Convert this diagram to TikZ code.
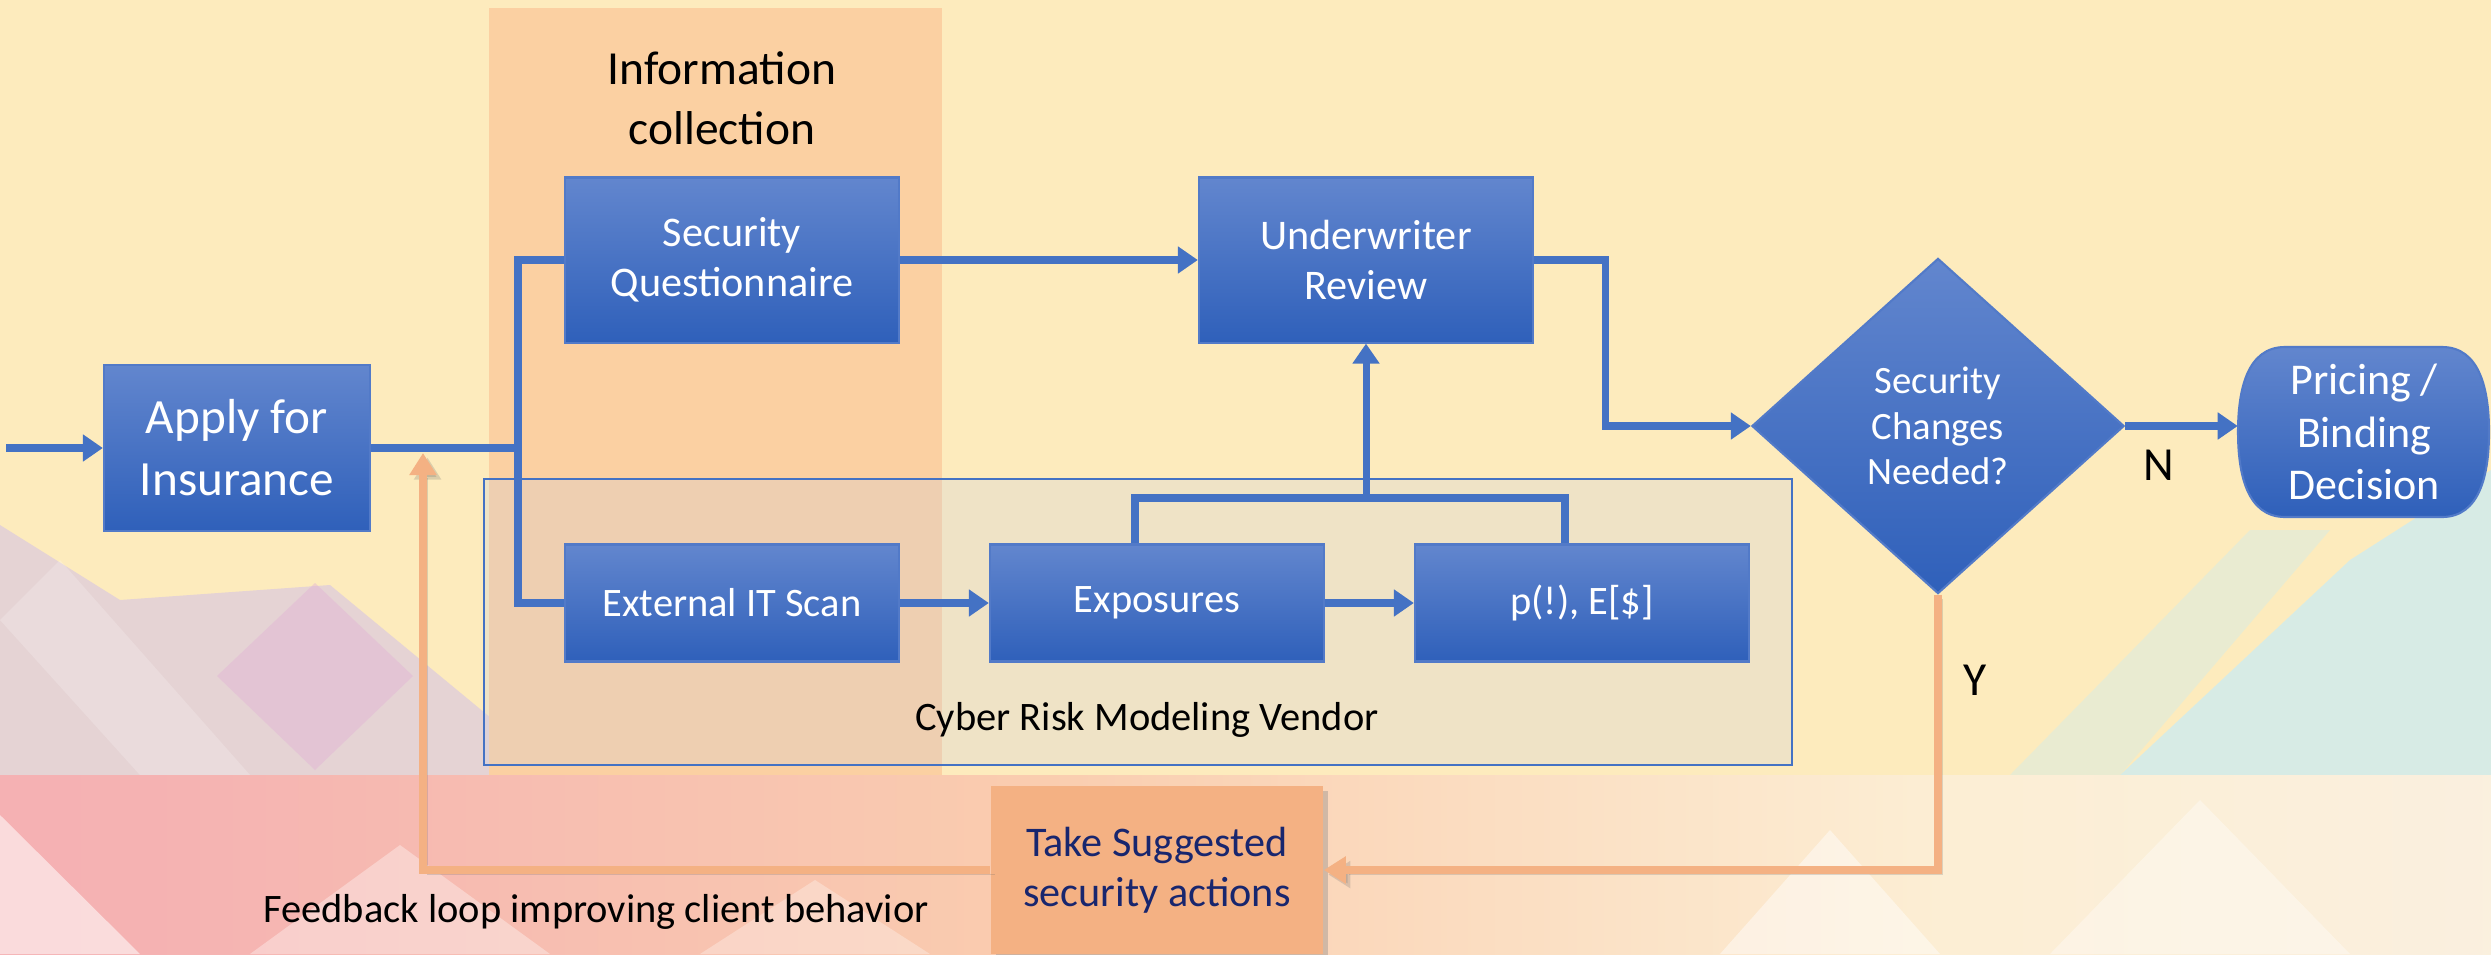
\documentclass[tikz,border=0pt]{standalone}
\usepackage{fontspec}
\setmainfont{Carlito}
\usetikzlibrary{arrows.meta,positioning,shapes.geometric,shadows}

\definecolor{bgcream}{RGB}{253,235,189}
\definecolor{infoband}{RGB}{251,208,162}
\definecolor{lineblue}{RGB}{68,114,196}
\definecolor{boxtop}{RGB}{98,134,206}
\definecolor{boxbottom}{RGB}{47,96,186}
\definecolor{boxedge}{RGB}{82,122,200}
\definecolor{loopline}{RGB}{244,177,131}
\definecolor{actiontext}{RGB}{24,38,110}
\definecolor{vendorgray}{RGB}{200,205,225}
\definecolor{hilllilac}{RGB}{214,196,228}
\definecolor{hillpink}{RGB}{226,178,214}
\definecolor{skycyan}{RGB}{200,236,246}
\definecolor{bandpink}{RGB}{242,168,192}
\definecolor{bandrose}{RGB}{245,178,178}
\definecolor{bandpeach}{RGB}{250,205,175}
\definecolor{bandcream}{RGB}{252,238,212}
\definecolor{bandpale}{RGB}{246,243,246}

\pgfdeclarehorizontalshading{bandshade}{100bp}{color(0bp)=(bandpink); color(28bp)=(bandrose); color(46bp)=(bandpeach); color(64bp)=(bandcream); color(100bp)=(bandpale)}

\tikzset{
  procbox/.style={rectangle, draw=boxedge, line width=0.6pt, top color=boxtop,
    bottom color=boxbottom, text=white, align=center, inner sep=0pt},
  wire/.style={draw=lineblue, line width=2pt},
  flow/.style={wire, -{Triangle[length=0.2cm,width=0.26cm]}},
  loopwire/.style={draw=loopline, line width=2.4pt, -{Triangle[length=0.22cm,width=0.26cm]},
    preaction={draw=black!60, opacity=0.22, transform canvas={xshift=1.3pt, yshift=-1.3pt}}},
  vendorbox/.style={rectangle, draw=lineblue, line width=0.6pt, fill=vendorgray, fill opacity=0.25},
  midfont/.style={font=\fontsize{12}{14.2}\selectfont},
  smallfont/.style={font=\fontsize{11.5}{13.5}\selectfont}
}

\begin{document}
\begin{tikzpicture}[x=0.01cm, y=-0.01cm]
  \useasboundingbox (0,0) rectangle (2491,954);

  % background
  \fill[bgcream] (0,0) rectangle (2491,954);
  \fill[hilllilac, opacity=0.6] (0,525) -- (120,600) -- (330,585) -- (560,775) -- (0,775) -- cycle;
  \fill[hillpink, opacity=0.45] (315,583) -- (413,676) -- (315,770) -- (217,676) -- cycle;
  \fill[white, opacity=0.2] (60,560) -- (250,775) -- (140,775) -- (0,620) -- cycle;
  \fill[skycyan, opacity=0.7] (2120,775) -- (2350,560) -- (2491,470) -- (2491,775) -- cycle;
  \fill[skycyan!60!bgcream, opacity=0.6] (2010,775) -- (2250,530) -- (2330,530) -- (2120,775) -- cycle;
  \shade[shading=bandshade] (0,775) rectangle (2491,954);
  \fill[white, opacity=0.55] (0,815) -- (140,954) -- (0,954) -- cycle;
  \fill[white, opacity=0.35] (250,954) -- (400,845) -- (550,954) -- cycle;
  \fill[white, opacity=0.3] (700,954) -- (815,880) -- (930,954) -- cycle;
  \fill[white, opacity=0.45] (1720,954) -- (1830,830) -- (1940,954) -- cycle;
  \fill[white, opacity=0.35] (2050,954) -- (2200,800) -- (2350,954) -- cycle;

  % information collection column
  \fill[infoband] (489,8) rectangle (942,775);
  \node[font=\fontsize{13.5}{17}\selectfont, align=center] (infotitle) at (722,98) {Information\\collection};

  % vendor frame
  \node[vendorbox, minimum width=13.08cm, minimum height=2.86cm] (vendor) at (1138,622) {};
  \node[smallfont] (vendorlbl) at (1147,720) {Cyber Risk Modeling Vendor};

  % process boxes
  \node[procbox, minimum width=2.66cm, minimum height=1.66cm, font=\fontsize{14}{17.6}\selectfont] (apply) at (237,448) {Apply for\\Insurance};
  \node[procbox, midfont, minimum width=3.34cm, minimum height=1.65cm] (quest) at (732,260) {Security\\Questionnaire};
  \node[procbox, midfont, minimum width=3.34cm, minimum height=1.65cm] (under) at (1366,260) {Underwriter\\Review};
  \node[procbox, smallfont, minimum width=3.34cm, minimum height=1.17cm] (scan) at (732,603) {External IT Scan};
  \node[procbox, smallfont, minimum width=3.34cm, minimum height=1.17cm] (expo) at (1157,603) {Exposures};
  \node[procbox, smallfont, minimum width=3.34cm, minimum height=1.17cm] (risk) at (1582,603) {p(!), E[\$]};
  \node[procbox, diamond, font=\fontsize{11}{13}\selectfont, minimum width=3.72cm, minimum height=3.35cm] (check) at (1938,426) {Security\\Changes\\Needed?};

  % terminal with bulging sides
  \path[draw=boxedge, line width=0.6pt, top color=boxtop, bottom color=boxbottom]
    (2285,347) -- (2442,347) .. controls (2480,347) and (2489,390) .. (2489,432)
    .. controls (2489,474) and (2480,517) .. (2442,517) -- (2285,517)
    .. controls (2247,517) and (2238,474) .. (2238,432)
    .. controls (2238,390) and (2247,347) .. (2285,347) -- cycle;
  \node[align=center, text=white, font=\fontsize{12.5}{15}\selectfont, minimum width=2.51cm, minimum height=1.7cm, inner sep=0pt] (price) at (2364,432) {Pricing /\\Binding\\Decision};

  \node[rectangle, fill=loopline, text=actiontext, align=center, midfont, minimum width=3.32cm, minimum height=1.68cm,
        drop shadow={opacity=0.35, shadow xshift=0.05cm, shadow yshift=-0.05cm}] (take) at (1157,870) {Take Suggested\\security actions};

  % connectors
  \coordinate (entry) at (6,448);
  \coordinate (split) at (518,448);
  \coordinate (bar) at (1366,498);
  \coordinate (fbend) at (423,453);

  \draw[flow] (entry) -- (apply);
  \draw[wire] (apply) -- (split);
  \draw[wire] (quest.west) -| (split) |- (scan.west);
  \draw[flow] (quest) -- (under);
  \draw[flow] (scan) -- (expo);
  \draw[flow] (expo) -- (risk);
  \draw[wire] ([xshift=-0.22cm]expo.north) |- (bar) -| ([xshift=-0.17cm]risk.north);
  \draw[flow] (bar) -- (under.south);
  \draw[flow] (under.east) -- ++(71,0) |- (check.west);
  \draw[flow] (check.east) -- (check.east -| price.west);
  \node[font=\fontsize{13.5}{16}\selectfont] (nlbl) at (2159,465) {N};

  % feedback loop
  \draw[loopwire] (check.south) |- (take.east);
  \node[font=\fontsize{13.5}{16}\selectfont] (ylbl) at (1975,680) {Y};
  \draw[loopwire] (take.west) -| (fbend);
  \node[smallfont] (fblbl) at (596,912) {Feedback loop improving client behavior};
\end{tikzpicture}
\end{document}
